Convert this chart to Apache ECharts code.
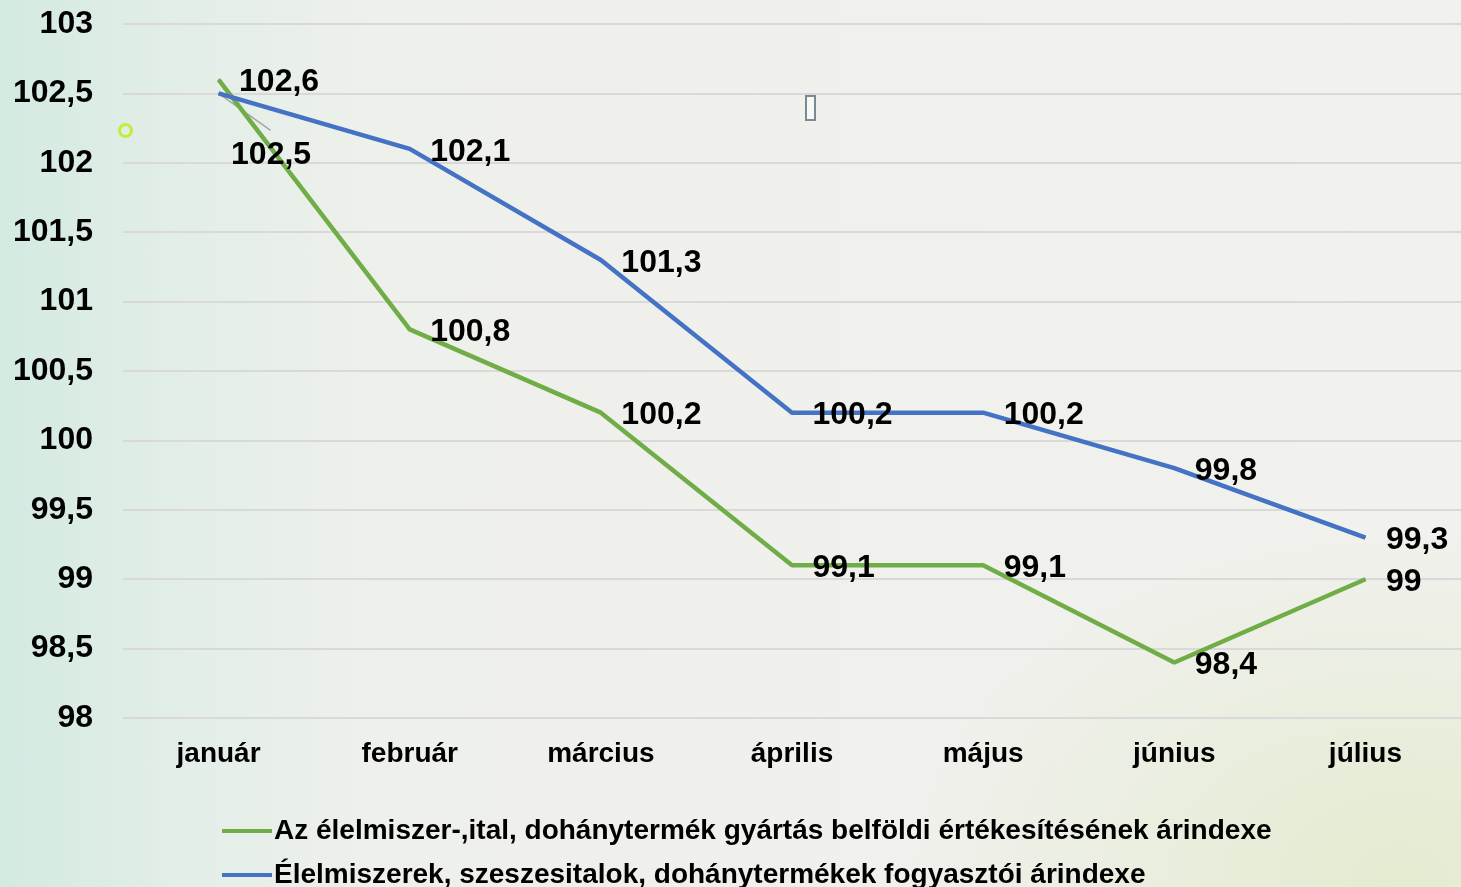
<!DOCTYPE html>
<html>
<head>
<meta charset="utf-8">
<script src="https://cdn.jsdelivr.net/npm/echarts@6/dist/echarts.min.js"></script>
<style>
html,body{margin:0;padding:0;width:1461px;height:887px;overflow:hidden;}
body{background:
 radial-gradient(ellipse 700px 500px at 1400px 880px, rgba(225,235,205,0.9), rgba(225,235,205,0) 70%),
 linear-gradient(90deg, #d3eae1 0px, #e3eee8 180px, #eef0eb 380px, #f0f0ec 900px, #f1f1ed 1461px);}
#chart{width:1461px;height:887px;}
</style>
</head>
<body>
<div id="chart"></div>
<script>
const categories = ['január','február','március','április','május','június','július'];
const seriesNames = [
  'Az élelmiszer-,ital, dohánytermék gyártás belföldi értékesítésének árindexe',
  'Élelmiszerek, szeszesitalok, dohánytermékek fogyasztói árindexe'
];
const greenValues = [102.6, 100.8, 100.2, 99.1, 99.1, 98.4, 99.0];
const blueValues  = [102.5, 102.1, 101.3, 100.2, 100.2, 99.8, 99.3];
const yMin = 98, yMax = 103, yStep = 0.5;

const fmt = v => String(v).replace('.', ',');
const FONT = '"Liberation Sans", Arial, sans-serif';

const chart = echarts.init(document.getElementById('chart'), null, {renderer:'canvas'});

const labelBase = {
  show: true, position: 'right', distance: 20, offset: [0, 3],
  fontFamily: FONT, fontWeight: 'bold', fontSize: 32, color: '#000',
  formatter: p => fmt(p.value)
};

const blueData = blueValues.map((v, i) => i === 0 ? {
  value: v,
  label: { offset: [-8, 62] }
} : v);

chart.setOption({
  backgroundColor: 'transparent',
  animation: false,
  grid: { left: 123, width: 1342, top: 24, bottom: 169, containLabel: false },
  legend: {
    type: 'plain', orient: 'vertical', left: 217, top: 810, height: 120,
    itemWidth: 50, itemHeight: 14, itemGap: 12,
    icon: 'path://M0,0 H50 V4 H0 Z',
    textStyle: { fontFamily: FONT, fontWeight: 'bold', fontSize: 28, lineHeight: 32, color: '#000', padding: [0,0,0,-3] },
    data: seriesNames
  },
  xAxis: {
    type: 'category', data: categories, boundaryGap: true,
    axisLine: { show: false }, axisTick: { show: false },
    axisLabel: { margin: 22, fontFamily: FONT, fontWeight: 'bold', fontSize: 28, color: '#000' }
  },
  yAxis: {
    type: 'value', min: yMin, max: yMax, interval: yStep,
    axisLine: { show: false }, axisTick: { show: false },
    splitLine: { lineStyle: { color: '#d9d9d9', width: 2 } },
    axisLabel: { margin: 30, padding: [4, 0, 0, 0], fontFamily: FONT, fontWeight: 'bold', fontSize: 32, color: '#000', formatter: v => fmt(v) }
  },
  series: [
    { name: seriesNames[0], type: 'line', data: greenValues, symbol: 'circle', symbolSize: 1, showSymbol: true,
      lineStyle: { color: '#70ad47', width: 4.5 }, itemStyle: { color: '#70ad47' },
      label: labelBase, z: 3 },
    { name: seriesNames[1], type: 'line', data: blueData, symbol: 'circle', symbolSize: 1, showSymbol: true,
      lineStyle: { color: '#4472c4', width: 4.5 }, itemStyle: { color: '#4472c4' },
      label: labelBase, z: 4 }
  ]
});

// leader line for the first blue label, anchored at the data point via the library's scales
const p0 = chart.convertToPixel({ seriesIndex: 1 }, [0, blueValues[0]]);
chart.setOption({
  graphic: [
    { type: 'line', shape: { x1: p0[0], y1: p0[1], x2: p0[0] + 52, y2: p0[1] + 37 },
      style: { stroke: '#a6a6a6', lineWidth: 1.5 }, z: 2 },
    { type: 'circle', left: 117, top: 122, shape: { r: 6 }, style: { fill: 'none', stroke: '#c6ec3a', lineWidth: 3 } },
    { type: 'rect', left: 805, top: 95, shape: { width: 9, height: 24 }, style: { fill: '#f8f8f6', stroke: '#7a8a90', lineWidth: 2 } }
  ]
});
</script>
</body>
</html>
